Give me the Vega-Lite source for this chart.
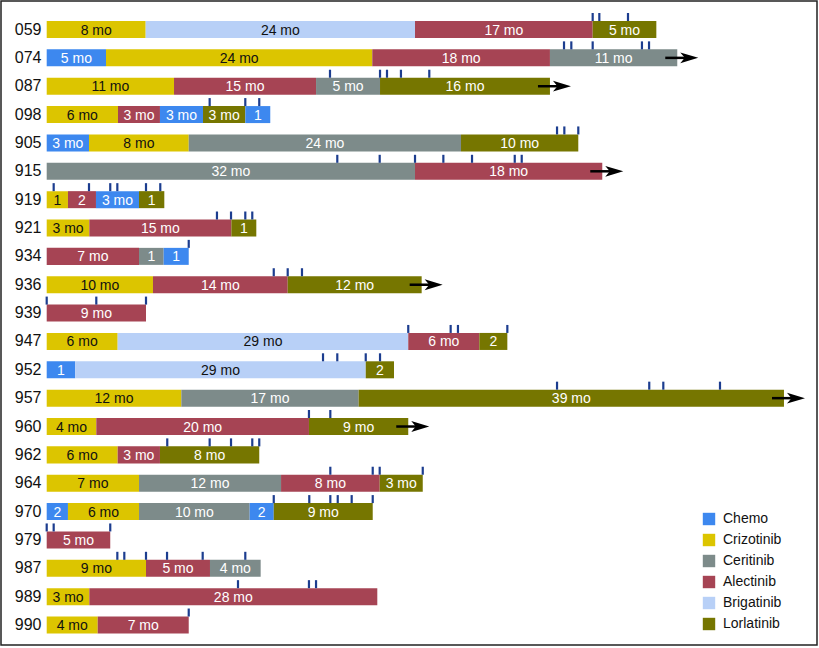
{
  "$schema": "https://vega.github.io/schema/vega-lite/v6.json",
  "width": 816,
  "height": 644,
  "autosize": {"type": "none"},
  "padding": {"left": 1, "top": 1, "right": 2, "bottom": 3},
  "background": "white",
  "config": {
    "font": "Liberation Sans",
    "view": {"stroke": "#222222", "strokeWidth": 1.5}
  },
  "datasets": {
    "segments": [
      {"pt": "059", "drug": "Crizotinib", "start": 0, "end": 9.08, "label": "8 mo"},
      {"pt": "059", "drug": "Brigatinib", "start": 9.08, "end": 33.79, "label": "24 mo"},
      {"pt": "059", "drug": "Alectinib", "start": 33.79, "end": 50.09, "label": "17 mo"},
      {"pt": "059", "drug": "Lorlatinib", "start": 50.09, "end": 55.93, "label": "5 mo"},
      {"pt": "074", "drug": "Chemo", "start": 0, "end": 5.44, "label": "5 mo"},
      {"pt": "074", "drug": "Crizotinib", "start": 5.44, "end": 29.87, "label": "24 mo"},
      {"pt": "074", "drug": "Alectinib", "start": 29.87, "end": 46.17, "label": "18 mo"},
      {"pt": "074", "drug": "Ceritinib", "start": 46.17, "end": 57.85, "label": "11 mo"},
      {"pt": "087", "drug": "Crizotinib", "start": 0, "end": 11.68, "label": "11 mo"},
      {"pt": "087", "drug": "Alectinib", "start": 11.68, "end": 24.71, "label": "15 mo"},
      {"pt": "087", "drug": "Ceritinib", "start": 24.71, "end": 30.58, "label": "5 mo"},
      {"pt": "087", "drug": "Lorlatinib", "start": 30.58, "end": 46.17, "label": "16 mo"},
      {"pt": "098", "drug": "Crizotinib", "start": 0, "end": 6.54, "label": "6 mo"},
      {"pt": "098", "drug": "Alectinib", "start": 6.54, "end": 10.39, "label": "3 mo"},
      {"pt": "098", "drug": "Chemo", "start": 10.39, "end": 14.34, "label": "3 mo"},
      {"pt": "098", "drug": "Lorlatinib", "start": 14.34, "end": 18.22, "label": "3 mo"},
      {"pt": "098", "drug": "Chemo", "start": 18.22, "end": 20.51, "label": "1"},
      {"pt": "905", "drug": "Chemo", "start": 0, "end": 3.88, "label": "3 mo"},
      {"pt": "905", "drug": "Crizotinib", "start": 3.88, "end": 13.03, "label": "8 mo"},
      {"pt": "905", "drug": "Ceritinib", "start": 13.03, "end": 38.01, "label": "24 mo"},
      {"pt": "905", "drug": "Lorlatinib", "start": 38.01, "end": 48.77, "label": "10 mo"},
      {"pt": "915", "drug": "Ceritinib", "start": 0, "end": 33.79, "label": "32 mo"},
      {"pt": "915", "drug": "Alectinib", "start": 33.79, "end": 50.97, "label": "18 mo"},
      {"pt": "919", "drug": "Crizotinib", "start": 0, "end": 1.95, "label": "1"},
      {"pt": "919", "drug": "Alectinib", "start": 1.95, "end": 4.52, "label": "2"},
      {"pt": "919", "drug": "Chemo", "start": 4.52, "end": 8.47, "label": "3 mo"},
      {"pt": "919", "drug": "Lorlatinib", "start": 8.47, "end": 10.79, "label": "1"},
      {"pt": "921", "drug": "Crizotinib", "start": 0, "end": 3.91, "label": "3 mo"},
      {"pt": "921", "drug": "Alectinib", "start": 3.91, "end": 16.94, "label": "15 mo"},
      {"pt": "921", "drug": "Lorlatinib", "start": 16.94, "end": 19.23, "label": "1"},
      {"pt": "934", "drug": "Alectinib", "start": 0, "end": 8.47, "label": "7 mo"},
      {"pt": "934", "drug": "Ceritinib", "start": 8.47, "end": 10.73, "label": "1"},
      {"pt": "934", "drug": "Chemo", "start": 10.73, "end": 13.03, "label": "1"},
      {"pt": "936", "drug": "Crizotinib", "start": 0, "end": 9.75, "label": "10 mo"},
      {"pt": "936", "drug": "Alectinib", "start": 9.75, "end": 22.11, "label": "14 mo"},
      {"pt": "936", "drug": "Lorlatinib", "start": 22.11, "end": 34.4, "label": "12 mo"},
      {"pt": "939", "drug": "Alectinib", "start": 0, "end": 9.11, "label": "9 mo"},
      {"pt": "947", "drug": "Crizotinib", "start": 0, "end": 6.51, "label": "6 mo"},
      {"pt": "947", "drug": "Brigatinib", "start": 6.51, "end": 33.17, "label": "29 mo"},
      {"pt": "947", "drug": "Alectinib", "start": 33.17, "end": 39.69, "label": "6 mo"},
      {"pt": "947", "drug": "Lorlatinib", "start": 39.69, "end": 42.26, "label": "2"},
      {"pt": "952", "drug": "Chemo", "start": 0, "end": 2.62, "label": "1"},
      {"pt": "952", "drug": "Brigatinib", "start": 2.62, "end": 29.27, "label": "29 mo"},
      {"pt": "952", "drug": "Lorlatinib", "start": 29.27, "end": 31.86, "label": "2"},
      {"pt": "957", "drug": "Crizotinib", "start": 0, "end": 12.35, "label": "12 mo"},
      {"pt": "957", "drug": "Ceritinib", "start": 12.35, "end": 28.62, "label": "17 mo"},
      {"pt": "957", "drug": "Lorlatinib", "start": 28.62, "end": 67.64, "label": "39 mo"},
      {"pt": "960", "drug": "Crizotinib", "start": 0, "end": 4.55, "label": "4 mo"},
      {"pt": "960", "drug": "Alectinib", "start": 4.55, "end": 24.06, "label": "20 mo"},
      {"pt": "960", "drug": "Lorlatinib", "start": 24.06, "end": 33.17, "label": "9 mo"},
      {"pt": "962", "drug": "Crizotinib", "start": 0, "end": 6.51, "label": "6 mo"},
      {"pt": "962", "drug": "Alectinib", "start": 6.51, "end": 10.39, "label": "3 mo"},
      {"pt": "962", "drug": "Lorlatinib", "start": 10.39, "end": 19.5, "label": "8 mo"},
      {"pt": "964", "drug": "Crizotinib", "start": 0, "end": 8.47, "label": "7 mo"},
      {"pt": "964", "drug": "Ceritinib", "start": 8.47, "end": 21.5, "label": "12 mo"},
      {"pt": "964", "drug": "Alectinib", "start": 21.5, "end": 30.55, "label": "8 mo"},
      {"pt": "964", "drug": "Lorlatinib", "start": 30.55, "end": 34.5, "label": "3 mo"},
      {"pt": "970", "drug": "Chemo", "start": 0, "end": 1.95, "label": "2"},
      {"pt": "970", "drug": "Crizotinib", "start": 1.95, "end": 8.47, "label": "6 mo"},
      {"pt": "970", "drug": "Ceritinib", "start": 8.47, "end": 18.62, "label": "10 mo"},
      {"pt": "970", "drug": "Chemo", "start": 18.62, "end": 20.83, "label": "2"},
      {"pt": "970", "drug": "Lorlatinib", "start": 20.83, "end": 29.91, "label": "9 mo"},
      {"pt": "979", "drug": "Alectinib", "start": 0, "end": 5.83, "label": "5 mo"},
      {"pt": "987", "drug": "Crizotinib", "start": 0, "end": 9.11, "label": "9 mo"},
      {"pt": "987", "drug": "Alectinib", "start": 9.11, "end": 14.98, "label": "5 mo"},
      {"pt": "987", "drug": "Ceritinib", "start": 14.98, "end": 19.63, "label": "4 mo"},
      {"pt": "989", "drug": "Crizotinib", "start": 0, "end": 3.91, "label": "3 mo"},
      {"pt": "989", "drug": "Alectinib", "start": 3.91, "end": 30.33, "label": "28 mo"},
      {"pt": "990", "drug": "Crizotinib", "start": 0, "end": 4.68, "label": "4 mo"},
      {"pt": "990", "drug": "Alectinib", "start": 4.68, "end": 13.03, "label": "7 mo"}
    ],
    "events": [
      {"pt": "059", "t": 50.09}, {"pt": "059", "t": 50.7}, {"pt": "059", "t": 53.33},
      {"pt": "074", "t": 47.46}, {"pt": "074", "t": 48.13}, {"pt": "074", "t": 50.09}, {"pt": "074", "t": 54.61}, {"pt": "074", "t": 55.26},
      {"pt": "087", "t": 25.99}, {"pt": "087", "t": 30.58}, {"pt": "087", "t": 31.22}, {"pt": "087", "t": 32.5}, {"pt": "087", "t": 35.1},
      {"pt": "098", "t": 14.95}, {"pt": "098", "t": 18.22}, {"pt": "098", "t": 19.5},
      {"pt": "905", "t": 46.82}, {"pt": "905", "t": 47.49}, {"pt": "905", "t": 48.77},
      {"pt": "915", "t": 26.66}, {"pt": "915", "t": 30.55}, {"pt": "915", "t": 33.79}, {"pt": "915", "t": 36.39}, {"pt": "915", "t": 39.02}, {"pt": "915", "t": 42.94}, {"pt": "915", "t": 43.58},
      {"pt": "919", "t": 0.64}, {"pt": "919", "t": 3.88}, {"pt": "919", "t": 5.83}, {"pt": "919", "t": 6.48}, {"pt": "919", "t": 9.11}, {"pt": "919", "t": 10.42},
      {"pt": "921", "t": 15.62}, {"pt": "921", "t": 16.91}, {"pt": "921", "t": 18.22}, {"pt": "921", "t": 18.86},
      {"pt": "934", "t": 13.03},
      {"pt": "936", "t": 20.83}, {"pt": "936", "t": 22.11}, {"pt": "936", "t": 23.42},
      {"pt": "939", "t": 0}, {"pt": "939", "t": 4.55}, {"pt": "939", "t": 9.11},
      {"pt": "947", "t": 33.17}, {"pt": "947", "t": 37.06}, {"pt": "947", "t": 37.73}, {"pt": "947", "t": 42.26},
      {"pt": "952", "t": 25.35}, {"pt": "952", "t": 26.66}, {"pt": "952", "t": 29.27}, {"pt": "952", "t": 30.58},
      {"pt": "957", "t": 46.82}, {"pt": "957", "t": 55.28}, {"pt": "957", "t": 56.57}, {"pt": "957", "t": 61.77},
      {"pt": "960", "t": 24.06}, {"pt": "960", "t": 26.02},
      {"pt": "962", "t": 11.06}, {"pt": "962", "t": 14.95}, {"pt": "962", "t": 16.91}, {"pt": "962", "t": 18.86}, {"pt": "962", "t": 19.5},
      {"pt": "964", "t": 26.02}, {"pt": "964", "t": 29.91}, {"pt": "964", "t": 30.55}, {"pt": "964", "t": 34.5},
      {"pt": "970", "t": 20.83}, {"pt": "970", "t": 24.09}, {"pt": "970", "t": 26.02}, {"pt": "970", "t": 26.7}, {"pt": "970", "t": 27.98}, {"pt": "970", "t": 29.91},
      {"pt": "979", "t": 0}, {"pt": "979", "t": 0.64}, {"pt": "979", "t": 5.83},
      {"pt": "987", "t": 6.48}, {"pt": "987", "t": 7.12}, {"pt": "987", "t": 9.11}, {"pt": "987", "t": 11.04}, {"pt": "987", "t": 14.31}, {"pt": "987", "t": 18.22},
      {"pt": "989", "t": 17.55}, {"pt": "989", "t": 24.06}, {"pt": "989", "t": 24.71},
      {"pt": "990", "t": 13.03}
    ],
    "ongoing": [
      {"pt": "074", "end": 57.85},
      {"pt": "087", "end": 46.17},
      {"pt": "915", "end": 50.97},
      {"pt": "936", "end": 34.4},
      {"pt": "957", "end": 67.64},
      {"pt": "960", "end": 33.17}
    ]
  },
  "encoding": {
    "y": {
      "field": "pt",
      "type": "nominal",
      "scale": {
        "domain": ["059", "074", "087", "098", "905", "915", "919", "921", "934", "936", "939", "947", "952", "957", "960", "962", "964", "970", "979", "987", "989", "990"],
        "range": [14.33, 638.2],
        "paddingInner": 0.4,
        "paddingOuter": 0.2
      },
      "axis": {
        "title": null,
        "domain": false,
        "ticks": false,
        "offset": -44,
        "labelPadding": 4,
        "labelFontSize": 16,
        "labelColor": "#111111",
        "labelFont": "Liberation Sans"
      }
    }
  },
  "layer": [
    {
      "data": {"name": "segments"},
      "mark": {"type": "bar"},
      "encoding": {
        "x": {
          "field": "start",
          "type": "quantitative",
          "scale": {"domain": [-4.193, 70.67], "nice": false, "zero": false},
          "axis": null
        },
        "x2": {"field": "end"},
        "color": {
          "field": "drug",
          "type": "nominal",
          "scale": {
            "domain": ["Chemo", "Crizotinib", "Ceritinib", "Alectinib", "Brigatinib", "Lorlatinib"],
            "range": ["#3d88ef", "#dcc500", "#7d8b8a", "#a64454", "#b8d0f7", "#767600"]
          },
          "legend": {
            "title": null,
            "orient": "none",
            "legendX": 701,
            "legendY": 511,
            "padding": 0,
            "symbolType": "square",
            "symbolSize": 154,
            "symbolStrokeWidth": 0,
            "symbolOpacity": 1,
            "labelFontSize": 14,
            "labelColor": "#111111",
            "labelOffset": 7,
            "rowPadding": 7
          }
        }
      }
    },
    {
      "data": {"name": "segments"},
      "transform": [
        {"fold": ["start", "end"], "as": ["bound", "month"]}
      ],
      "mark": {"type": "text", "fontSize": 14, "baseline": "middle", "align": "center", "dy": 1},
      "encoding": {
        "x": {"field": "month", "aggregate": "mean", "type": "quantitative"},
        "text": {"field": "label", "type": "nominal"},
        "detail": [
          {"field": "drug", "type": "nominal"},
          {"field": "start", "type": "quantitative"}
        ],
        "color": {
          "condition": {"test": "datum.drug === 'Crizotinib' || datum.drug === 'Brigatinib'", "value": "#111111"},
          "value": "#ffffff"
        }
      }
    },
    {
      "data": {"name": "events"},
      "mark": {"type": "tick", "orient": "vertical", "size": 8, "thickness": 2.2, "yOffset": -12.5, "color": "#1c3d8f", "opacity": 1},
      "encoding": {
        "x": {"field": "t", "type": "quantitative"}
      }
    },
    {
      "data": {"name": "ongoing"},
      "mark": {"type": "rule", "color": "#000000", "strokeWidth": 2.5, "xOffset": -12, "x2Offset": 8},
      "encoding": {
        "x": {"field": "end", "type": "quantitative"},
        "x2": {"field": "end"}
      }
    },
    {
      "data": {"name": "ongoing"},
      "mark": {
        "type": "point",
        "shape": "M1,0 L-1,-0.6 L-0.5,0 L-1,0.6 Z",
        "filled": true,
        "size": 324,
        "color": "#000000",
        "opacity": 1,
        "xOffset": 12
      },
      "encoding": {
        "x": {"field": "end", "type": "quantitative"}
      }
    }
  ]
}
